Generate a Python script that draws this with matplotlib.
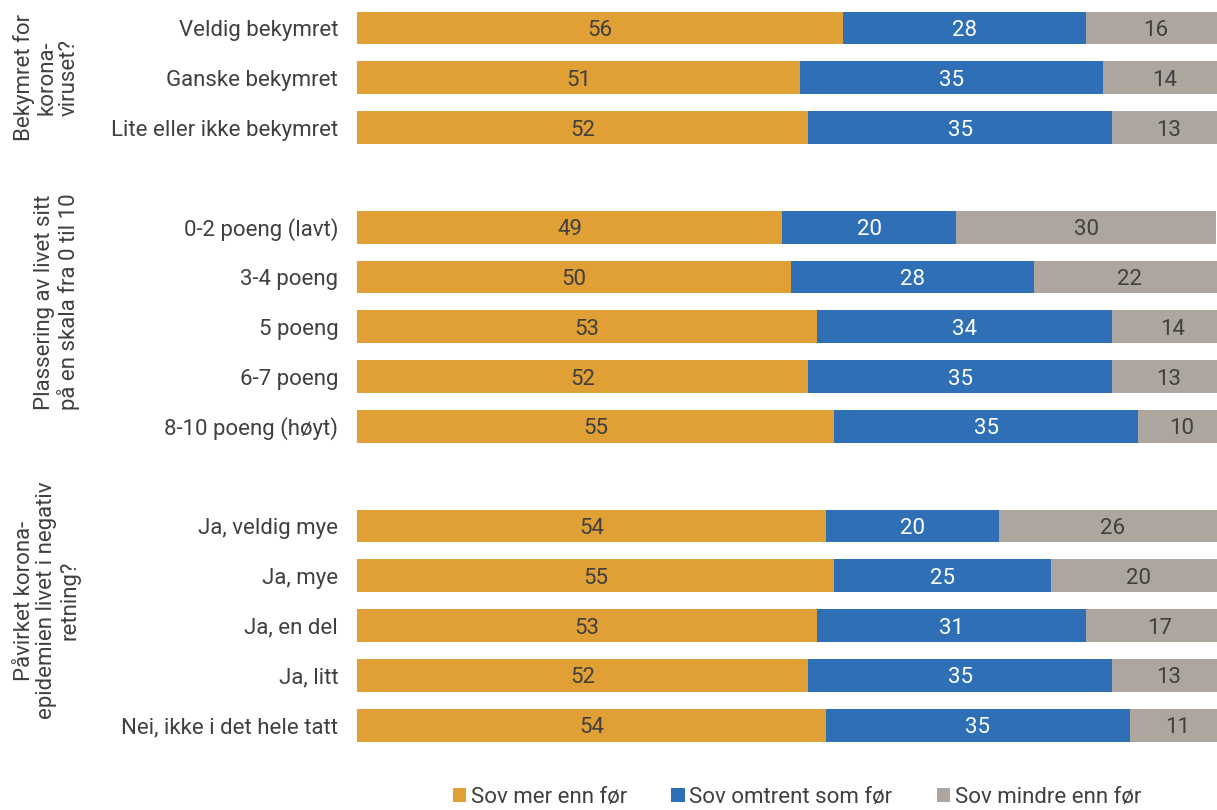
import matplotlib
matplotlib.use("Agg")
import matplotlib.pyplot as plt
import numpy as np

plt.rcParams["font.family"] = ["Roboto", "DejaVu Sans"]

categories = [
    "Veldig bekymret", "Ganske bekymret", "Lite eller ikke bekymret",
    "0-2 poeng (lavt)", "3-4 poeng", "5 poeng", "6-7 poeng", "8-10 poeng (høyt)",
    "Ja, veldig mye", "Ja, mye", "Ja, en del", "Ja, litt", "Nei, ikke i det hele tatt",
]
positions = [0, 1, 2, 4, 5, 6, 7, 8, 10, 11, 12, 13, 14]

sov_mer = [56, 51, 52, 49, 50, 53, 52, 55, 54, 55, 53, 52, 54]
sov_som_for = [28, 35, 35, 20, 28, 34, 35, 35, 20, 25, 31, 35, 35]
sov_mindre = [16, 14, 13, 30, 22, 14, 13, 10, 26, 20, 17, 13, 11]

series_names = ["Sov mer enn før", "Sov omtrent som før", "Sov mindre enn før"]
colors = ["#E0A035", "#2E6FB5", "#ADA69F"]
label_colors = ["#404040", "white", "#404040"]

group_labels = [
    "Bekymret for\nkorona-\nviruset?",
    "Plassering av livet sitt\npå en skala fra 0 til 10",
    "Påvirket korona-\nepidemien livet i negativ\nretning?",
]
group_label_y = [1, 5.5, 11.5]

W, H = 1217, 810
fig = plt.figure(figsize=(W / 100, H / 100), dpi=100)
left_px, right_px = 357, 1225
top_px, row_px = 28, 49.8
ax_top = top_px - 0.5 * row_px
ax_bottom = top_px + 14.5 * row_px
ax = fig.add_axes([left_px / W, 1 - ax_bottom / H,
                   (right_px - left_px) / W, (ax_bottom - ax_top) / H])

text_col = "#404040"
fs = 16
y = np.array(positions, dtype=float)
left = np.zeros(len(y))
for vals, c, lc, name in zip([sov_mer, sov_som_for, sov_mindre], colors, label_colors, series_names):
    vals = np.array(vals, dtype=float)
    ax.barh(y, vals, left=left, height=0.66, color=c, label=name, linewidth=0)
    for yi, l, v in zip(y, left, vals):
        ax.text(l + v / 2, yi, f"{int(v)}", ha="center", va="center_baseline",
                color=lc, fontsize=fs)
    left = left + vals

ax.set_xlim(0, 100)
ax.set_ylim(14.5, -0.5)
ax.set_yticks(positions)
ax.set_yticklabels(categories, fontsize=fs, color=text_col, va="center_baseline")
ax.tick_params(axis="y", length=0, pad=13.5)
ax.set_xticks([])
for s in ax.spines.values():
    s.set_visible(False)

for lab, gy in zip(group_labels, group_label_y):
    ypx = top_px + gy * row_px
    fig.text(80 / W, 1 - ypx / H, lab, rotation=90, ha="right", va="center",
             multialignment="center", fontsize=fs, color=text_col, linespacing=1.1)

handles, labels = ax.get_legend_handles_labels()
fig.legend(handles, labels, loc="lower center", bbox_to_anchor=(797 / W, 0.0),
           ncol=3, frameon=False, fontsize=fs, labelcolor=text_col, borderaxespad=0.1,
           borderpad=0.0,
           handlelength=0.6, handleheight=0.6, handletextpad=0.2, columnspacing=2.0)

fig.savefig("out.png", dpi=100)
